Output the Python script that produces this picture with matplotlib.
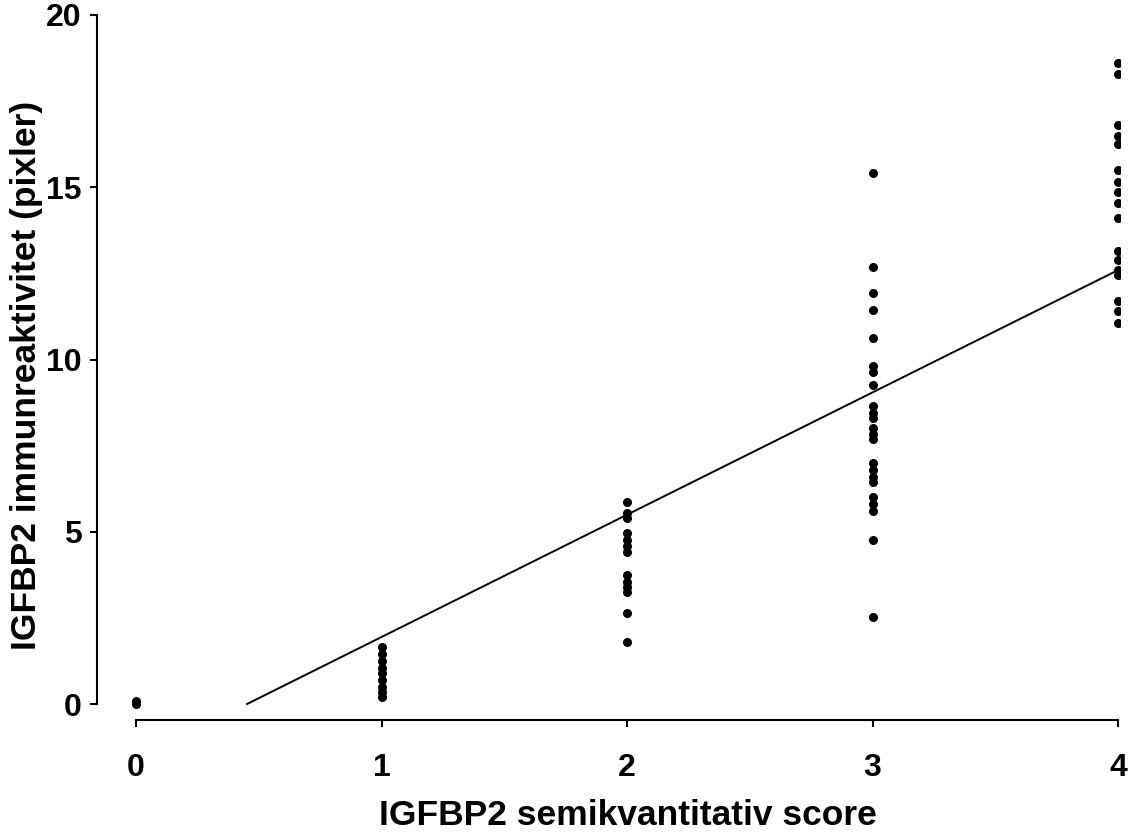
import matplotlib
matplotlib.use('Agg')
import matplotlib.pyplot as plt

# ---------- data ----------
score_0 = [0.0, 0.1]
score_1 = [1.65, 1.45, 1.25, 1.05, 0.9, 0.7, 0.5, 0.35, 0.2]
score_2 = [5.85, 5.55, 5.4, 4.95, 4.75, 4.6, 4.4, 3.75, 3.55, 3.4, 3.25, 2.65, 1.8]
score_3 = [15.42, 12.68, 11.94, 11.44, 10.61, 9.8, 9.65, 9.25, 8.65, 8.45, 8.3,
           8.0, 7.85, 7.7, 7.0, 6.8, 6.6, 6.45, 6.0, 5.8, 5.6, 4.76, 2.53]
score_4 = [18.6, 18.3, 16.8, 16.5, 16.25, 15.5, 15.15, 14.85, 14.55, 14.1,
           13.15, 12.9, 12.6, 12.45, 11.7, 11.4, 11.05]
groups = [score_0, score_1, score_2, score_3, score_4]

fit_x = [0.452, 4.0]
fit_slope = 3.55
fit_icpt = -1.605

x_ticks = [0, 1, 2, 3, 4]
y_ticks = [0, 5, 10, 15, 20]

FONT = 'Liberation Sans'

fig = plt.figure(figsize=(11.33, 8.36), dpi=100, facecolor='white')
ax = fig.add_axes([97 / 1133, (836 - 720) / 836, (1120 - 97) / 1133, (720 - 15) / 836])

for score, vals in enumerate(groups):
    ax.plot([score] * len(vals), vals, 'o', color='black', markersize=6.5,
            markeredgewidth=0, zorder=3)

ax.plot(fit_x, [fit_slope * x + fit_icpt for x in fit_x], color='black', lw=1.4)

ax.set_xlim(-0.159, 4.008)
ax.set_ylim(-0.464, 20.0)

for s in ('top', 'right'):
    ax.spines[s].set_visible(False)
ax.spines['left'].set_bounds(0, 20)
ax.spines['bottom'].set_bounds(0, 4)
ax.spines['left'].set_linewidth(1.5)
ax.spines['bottom'].set_linewidth(1.5)

ax.set_xticks(x_ticks)
ax.set_yticks(y_ticks)
ax.tick_params(axis='x', length=5, width=1.5, pad=19)
ax.tick_params(axis='y', length=5, width=1.5, pad=6)
for lab in ax.get_xticklabels() + ax.get_yticklabels():
    lab.set_fontfamily(FONT)
    lab.set_fontweight('bold')
    lab.set_fontsize(23)

ax.set_xlabel('IGFBP2 semikvantitativ score', fontsize=25.5, fontweight='bold',
              fontfamily=FONT)
ax.set_ylabel('IGFBP2 immunreaktivitet (pixler)', fontsize=25.5, fontweight='bold',
              fontfamily=FONT)
ax.xaxis.set_label_coords(0.5186, -0.112)
ax.yaxis.set_label_coords(-0.053, 0.489)

plt.savefig('out.png', dpi=100, facecolor='white')
plt.close()
